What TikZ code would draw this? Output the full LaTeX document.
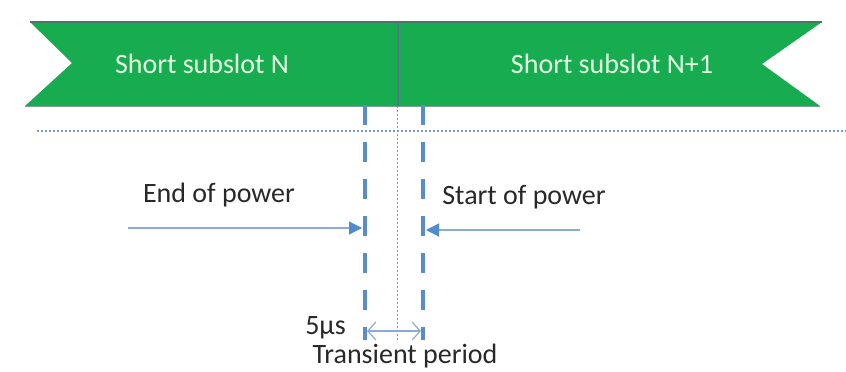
\documentclass[tikz,border=0pt]{standalone}
\usepackage{fontspec}
\setmainfont{Carlito}
\usetikzlibrary{arrows.meta}
\definecolor{bannergreen}{RGB}{24,172,80}
\definecolor{banneredge}{RGB}{70,120,100}
\definecolor{bannertext}{RGB}{225,255,225}
\definecolor{dividercol}{RGB}{85,115,145}
\definecolor{dashblue}{RGB}{90,140,200}
\definecolor{thinblue}{RGB}{140,170,215}
\definecolor{dotblue}{RGB}{120,150,210}
\definecolor{headblue}{RGB}{80,140,205}
\definecolor{textgray}{RGB}{40,40,40}
\tikzset{
  lbl/.style={font=\fontsize{28}{32}\selectfont, text=textgray, inner sep=0pt},
  bannerlbl/.style={font=\fontsize{28}{32}\selectfont, text=bannertext, inner sep=0pt},
  dashline/.style={dashblue, line width=4pt, dash pattern=on 20pt off 17pt},
  powerarrow/.style={thinblue, line width=1.2pt, -{Triangle[length=13pt,width=13pt,fill=headblue,color=headblue]}},
  dottedline/.style={dotblue, line width=1.3pt, dash pattern=on 1.5pt off 2.5pt},
}
\begin{document}
\begin{tikzpicture}[x=1pt,y=-1pt]
\useasboundingbox (0,0) rectangle (846,372);
% banner
\fill[bannergreen] (30,22) -- (822,22) -- (762,64) -- (820,106) -- (25,106) -- (72,63) -- cycle;
\draw[banneredge, line width=1.5pt] (30,22) -- (822,22);
\draw[banneredge!70, line width=1pt] (25,106) -- (820,106);
\coordinate (divtop) at (398,22);
\coordinate (divbot) at (398,106);
\draw[dividercol, line width=1.2pt] (divtop) -- (divbot);
\node[bannerlbl] (slotN) at (202,64) {Short subslot N};
\node[bannerlbl] (slotN1) at (612,64) {Short subslot N+1};
% horizontal dotted line
\coordinate (hl) at (37,131);
\coordinate (hr) at (846,131);
\draw[dottedline] (hl) -- (hr);
% center dotted vertical
\coordinate (ct) at (397,106);
\coordinate (cb) at (397,342);
\draw[dottedline, line width=1pt] (ct) -- (cb);
% dashed verticals
\coordinate (lt) at (365,105);
\coordinate (lb) at (365,340);
\coordinate (rt) at (423,105);
\coordinate (rb) at (423,340);
\draw[dashline] (lt) -- (lb);
\draw[dashline] (rt) -- (rb);
% arrows
\coordinate (ea) at (128,228);
\coordinate (eb) at (362,228);
\draw[powerarrow] (ea) -- (eb);
\coordinate (sa) at (580,230);
\coordinate (sb) at (426,230);
\draw[powerarrow] (sa) -- (sb);
\node[lbl] (endp) at (219,195) {End of power};
\node[lbl] (startp) at (524,197) {Start of power};
% transient
\coordinate (ta) at (367,331);
\coordinate (tb) at (421,331);
\draw[thinblue, line width=1.2pt, {Straight Barb[length=8pt,width=18pt]}-{Straight Barb[length=8pt,width=18pt]}] (ta) -- (tb);
\node[lbl, anchor=east] (mus) at (346,328) {5µs};
\node[lbl] (trans) at (405,356) {Transient period};
\end{tikzpicture}
\end{document}
